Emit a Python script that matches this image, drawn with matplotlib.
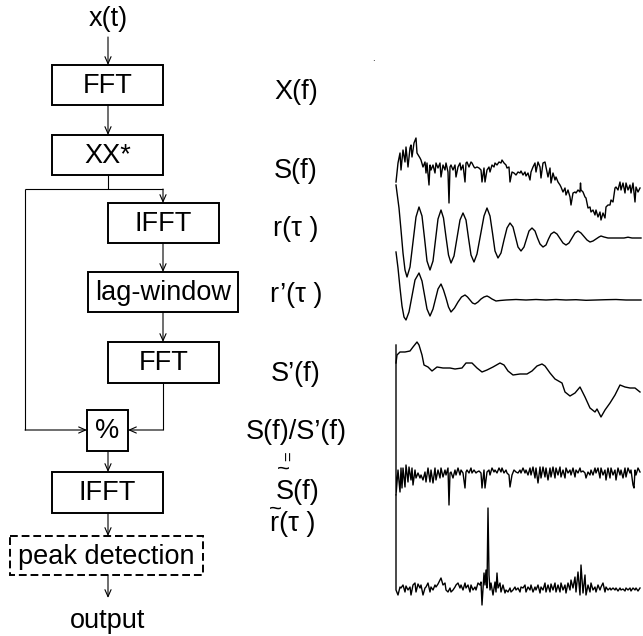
import numpy as np
import matplotlib
matplotlib.use("Agg")
import matplotlib.pyplot as plt
from matplotlib.patches import Rectangle

plt.rcParams['font.family'] = ['Liberation Sans', 'DejaVu Sans']

W, H = 643, 636

# ---- traces: (bin, value) pairs ----
sf_pts = [(0, 38), (2, 57), (4, 67), (5, 50), (7, 70), (9, 58), (10, 73), (12, 53), (14, 72), (15, 75),
          (16, 63), (18, 77), (20, 82), (21, 67), (24, 62), (25, 60), (27, 53), (29, 58), (30, 47), (31, 57),
          (33, 35), (34, 55), (35, 50), (37, 55), (39, 47), (40, 57), (42, 52), (44, 57), (45, 43), (47, 55),
          (49, 50), (50, 57), (52, 48), (53, 17), (54, 53), (55, 55), (57, 50), (59, 55), (60, 43), (62, 53),
          (64, 57), (65, 50), (67, 55), (69, 38), (70, 57), (71, 58), (73, 53), (75, 58), (76, 57), (78, 53),
          (79, 52), (81, 53), (83, 52), (85, 50), (86, 38), (88, 52), (89, 38), (91, 50), (93, 53), (94, 48),
          (96, 55), (98, 53), (99, 57), (101, 55), (103, 58), (105, 57), (106, 60), (108, 57), (110, 55), (111, 52),
          (113, 53), (114, 38), (116, 48), (118, 47), (120, 45), (122, 48), (124, 47), (125, 49), (127, 45), (129, 48),
          (130, 44), (132, 47), (134, 40), (135, 48), (137, 53), (139, 57), (140, 48), (142, 58), (144, 53), (145, 42),
          (147, 57), (149, 58), (150, 53), (152, 43), (154, 52), (155, 37), (157, 47), (159, 40), (160, 43), (162, 38),
          (164, 35), (165, 33), (167, 28), (169, 32), (170, 25), (172, 30), (174, 23), (175, 15), (177, 27), (179, 28),
          (180, 27), (182, 30), (184, 28), (184.5, 37), (185, 30), (187, 28), (189, 23), (190, 22), (192, 12), (194, 13),
          (195, 8), (197, 10), (199, 5), (200, 10), (202, 3), (204, 8), (205, 0), (207, 7), (209, 2), (210, 13),
          (212, 15), (214, 15), (215, 20), (217, 18), (219, 32), (220, 33), (222, 30), (224, 38), (225, 30), (227, 37),
          (229, 27), (230, 37), (232, 30), (234, 35), (235, 27), (237, 37), (239, 18), (240, 33), (242, 28), (244, 32)]

r_pts = [(0, 53), (3, 30), (5, 8), (7, -15), (9, -32), (11, -39), (14, -29), (17, -4), (20, 21), (23, 31),
         (26, 22), (28.5, 0), (31, -23), (34, -32), (37, -23), (39.5, -2), (42, 19), (45, 28), (47.5, 20), (50, 1),
         (52.5, -17), (55, -25), (58, -18), (61, 0), (64, 18), (67, 25), (70, 18), (72.5, 0), (75, -17), (78, -24),
         (81, -16), (84.5, 3), (88, 22), (91, 30), (94, 22), (96.5, 5), (99, -13), (102, -20), (105, -15), (108, -2),
         (111, 10), (114, 15), (117, 11), (119.5, 1), (122, -9), (125, -13), (128, -9), (130.5, -1), (133, 7), (136, 10),
         (139, 7), (141.5, 0), (144, -6), (147, -9), (150, -7), (152.5, -1), (155, 4), (158, 6), (161, 4), (164, -0.5),
         (167, -5), (170, -7), (173, -5), (176, 0), (179, 5), (182, 7), (185, 5), (188, 1.5), (191, -2), (194, -4),
         (197, -3), (200, -1), (203, 1), (205, 2), (208, 1), (212, 0), (220, 0), (228, 0), (232, 0.8), (236, 0),
         (245, 0)]

rw_pts = [(0, 48), (2, 32), (4, 12), (6, -6), (8, -17), (10, -20), (13, -12), (16, 4), (19, 20), (23, 27),
          (26, 19), (28.5, 5), (31, -9), (34, -16), (37, -9), (39.5, 1), (42, 11), (45, 16), (47.5, 10), (50, 2),
          (52.5, -7), (55, -12), (58.5, -8), (62, -2), (65.5, 3), (69, 5), (71.5, 3), (74, 0), (76.5, -3), (79, -4),
          (82, -2), (85, 1), (88, 3), (91, 4), (93, 3), (96, 1), (100, -1), (104, -0.5), (110, 0), (120, 0.5),
          (130, 0), (140, 0.5), (150, 0), (160, 0.5), (170, 0), (180, 0.3), (190, -0.3), (200, 0), (210, 0.3),
          (220, 0.5), (230, 0), (245, 0)]

sw_pts = [(0, 57), (1, 65), (4, 68), (9, 68), (14, 69), (17, 73), (21, 78), (23, 75), (26, 65), (28, 55),
          (32, 53), (36, 49), (41, 53), (47, 52), (54, 52), (59, 51), (66, 52), (70, 57), (76, 57), (81, 52),
          (86, 48), (91, 50), (97, 53), (104, 57), (108, 55), (112, 49), (117, 45), (124, 46), (131, 46), (136, 49),
          (141, 54), (146, 56), (149, 54), (154, 47), (159, 41), (166, 37), (169, 28), (174, 24), (179, 27), (184, 33),
          (189, 23), (194, 12), (199, 8), (201, 11), (205, 3), (209, 10), (214, 17), (219, 25), (224, 35), (229, 33),
          (234, 32), (239, 32), (244, 28)]

st_pts = [(0, 135), (0, -15), (2, 10), (4, -12), (5, 12), (6, -8), (7, 12), (9, -7), (10, 15), (12, -2),
          (13, 13), (15, 0), (16, 12), (17, -5), (19, 10), (20, 2), (22, 7), (24, 2), (25, 5), (27, 0),
          (29, 8), (30, -2), (32, 12), (34, -2), (35, 10), (37, -3), (39, 12), (40, 0), (42, 10), (44, 2),
          (45, 12), (47, 3), (49, 10), (50, 5), (52, 12), (53, -25), (54, 7), (55, 8), (57, 2), (59, 10),
          (60, 5), (62, 12), (64, 5), (65, 10), (67, 7), (69, -8), (70, 8), (71, 10), (73, 7), (75, 12),
          (76, 7), (78, 10), (80, 7), (81, 8), (83, 9), (85, 7), (86, -8), (88, 10), (89, -8), (91, 8),
          (93, 10), (94, 5), (96, 12), (98, 8), (99, 10), (101, 7), (103, 12), (105, 8), (106, 12), (108, 7),
          (110, 10), (111, 7), (113, 5), (114, -7), (116, 5), (118, 10), (120, 8), (122, 7), (124, 10), (125, 7),
          (127, 12), (129, 7), (130, 10), (132, 5), (134, 12), (135, 5), (137, 13), (139, 2), (140, 12), (142, -3),
          (144, 13), (145, 2), (147, 13), (149, 3), (150, 12), (152, 0), (154, 12), (155, 3), (157, 13), (159, 2),
          (160, 12), (162, 5), (164, 13), (165, 3), (167, 10), (169, 2), (170, 12), (172, 7), (174, 10), (175, 5),
          (177, 12), (179, 3), (180, 10), (182, 7), (184, 12), (185, 8), (187, 9), (189, 7), (190, 2), (192, 8),
          (194, 5), (195, 10), (197, 5), (199, 12), (200, 7), (202, 12), (204, 2), (205, 12), (207, 5), (209, 10),
          (210, 0), (212, 12), (214, 2), (215, 12), (217, 5), (219, 10), (220, 0), (222, 12), (224, 5), (225, 10),
          (227, 2), (229, 12), (230, 3), (232, 12), (234, 7), (235, 10), (237, -5), (238, -8), (239, 10), (240, 5),
          (242, 12), (244, 8)]

rt_pts = [(0, 95), (0, 0), (2, -5), (4, 3), (5, 2), (7, 5), (9, -2), (10, 4), (12, 0), (14, 3),
          (15, -5), (17, 5), (19, 7), (20, -2), (22, 6), (24, 2), (25, 5), (27, -5), (29, 2), (30, 3),
          (32, 7), (34, -2), (35, 3), (37, 0), (39, 5), (40, 3), (42, 6), (44, 10), (45, 12), (47, 5),
          (49, 7), (50, 0), (52, -2), (54, 2), (55, -2), (57, 0), (59, 3), (60, 5), (62, 7), (64, 2),
          (65, 5), (67, 0), (69, 7), (70, 2), (72, 5), (74, -2), (75, 5), (77, 0), (79, 3), (80, 0),
          (82, 7), (84, 5), (85, 8), (86, -15), (88, 17), (89, 5), (90, 20), (91, 2), (92, 82), (93, 15),
          (94, 0), (95, 7), (97, -5), (99, 8), (100, -2), (101, 17), (102, 2), (104, 7), (105, -2), (107, 5),
          (109, -3), (110, 0), (112, -2), (114, 2), (115, -2), (117, 0), (119, 3), (120, 0), (122, 2), (124, -2),
          (125, 3), (127, 2), (129, 5), (130, -2), (132, 3), (134, 0), (135, 5), (137, -2), (139, 3), (140, 0),
          (142, 5), (144, -3), (145, 3), (147, 0), (149, 7), (150, -2), (152, 5), (154, -2), (155, 6), (157, 0),
          (159, 7), (160, -2), (162, 5), (164, -2), (165, 7), (167, 0), (169, 5), (170, -3), (172, 7), (174, 0),
          (175, 10), (177, 2), (179, 13), (180, -2), (182, 18), (184, -5), (185, 25), (187, -3), (189, 15), (190, -5),
          (192, 5), (194, -2), (195, 7), (197, 0), (199, 3), (200, -2), (202, 5), (204, 0), (205, 3), (207, 7),
          (209, -2), (210, 3), (212, 0), (214, 2), (215, 0), (217, 2), (219, 0), (220, 2), (222, -1), (224, 2),
          (225, 0), (227, 1), (229, -1), (230, 2), (232, 0), (234, 2), (235, -1), (237, 2), (239, 0), (240, 2),
          (242, -1), (244, 2)]

fig = plt.figure(figsize=(W / 100, H / 100), dpi=100)
ax = fig.add_axes([0, 0, 1, 1])
ax.set_xlim(0, W)
ax.set_ylim(H, 0)
ax.axis('off')

FS = 19.5
LW = 1.4


def box(x0, y0, x1, y1, label, dashed=False):
    ax.add_patch(Rectangle((x0, y0), x1 - x0, y1 - y0, fill=False, ec='k', lw=LW,
                           ls=(0, (4, 2)) if dashed else '-'))
    ax.text((x0 + x1) / 2, (y0 + y1) / 2 + 1, label, ha='center', va='center', fontsize=FS)


def arrow(x0, y0, x1, y1):
    ax.annotate('', xy=(x1, y1), xytext=(x0, y0),
                arrowprops=dict(arrowstyle='->,head_length=0.5,head_width=0.22',
                                lw=0.8, color='k', shrinkA=0, shrinkB=0))


def line(xs, ys):
    ax.plot(xs, ys, color='k', lw=0.8, solid_capstyle='butt')


# flow diagram
ax.text(108, 19, 'x(t)', ha='center', va='center', fontsize=FS)
arrow(108, 37, 108, 65)
box(52, 65, 163, 105, 'FFT')
arrow(108, 105, 108, 135)
box(52, 135, 163, 175, 'XX*')
line([108, 108], [175, 189])
line([25, 163], [189, 189])
arrow(163, 189, 163, 203)
box(108, 203, 219, 243, 'IFFT')
arrow(163, 243, 163, 272)
box(88, 272, 238, 312, 'lag-window')
arrow(163, 312, 163, 342)
box(108, 342, 219, 383, 'FFT')
line([163, 163], [383, 430])
arrow(163, 430, 128, 430)
line([25, 25], [189, 430])
arrow(25, 430, 87, 430)
box(87, 410, 128, 451, '%')
arrow(108, 451, 108, 472)
box(52, 472, 163, 513, 'IFFT')
arrow(108, 513, 108, 536)
box(10, 536, 203, 575, 'peak detection', dashed=True)
arrow(108, 575, 108, 598)
ax.text(108, 621, 'output', ha='center', va='center', fontsize=FS)

# signal names
for y, s in [(92, 'X(f)'), (171, 'S(f)'), (229, 'r(τ )'), (295, 'r’(τ )'),
             (374, 'S’(f)'), (432, 'S(f)/S’(f)')]:
    ax.text(296, y, s, ha='center', va='center', fontsize=FS)
ax.text(290, 456, '=', ha='center', va='center', fontsize=12, rotation=90)
ax.text(283, 469, '~', ha='center', va='center', fontsize=16)
ax.text(298, 492, 'S(f)', ha='center', va='center', fontsize=FS)
ax.text(276, 509, '~', ha='center', va='center', fontsize=16)
ax.text(293, 524, 'r(τ )', ha='center', va='center', fontsize=FS)
ax.text(373, 58, '.', ha='center', va='center', fontsize=7)

X0, X1 = 396, 641


def trace(pts, base, vlo, vhi):
    top, bottom = base - vhi, base - vlo
    a = fig.add_axes([X0 / W, 1 - bottom / H, (X1 - X0) / W, (bottom - top) / H])
    a.set_facecolor('none')
    a.set_xlim(0, 245)
    a.set_ylim(vlo, vhi)
    a.axis('off')
    b, v = np.array(pts, dtype=float).T
    a.plot(b, v, color='k', lw=1.0, clip_on=False)


trace(sf_pts, 220, -5, 95)
trace(r_pts, 238, -45, 58)
trace(rw_pts, 300, -25, 52)
trace(sw_pts, 420, 0, 80)
trace(st_pts, 480, -30, 140)
trace(rt_pts, 590, -20, 100)

fig.savefig('out.png', dpi=100)
